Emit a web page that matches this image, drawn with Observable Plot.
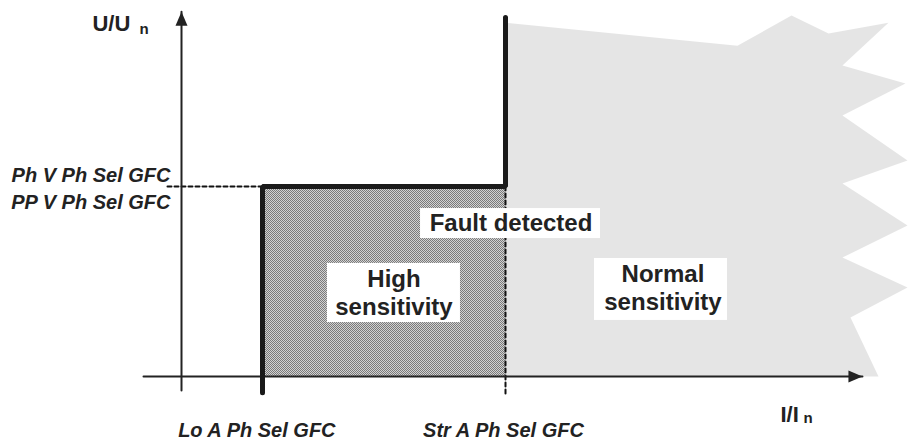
<!DOCTYPE html>
<html>
<head>
<meta charset="utf-8">
<script src="https://cdn.jsdelivr.net/npm/d3@7"></script>
<script src="https://cdn.jsdelivr.net/npm/@observablehq/plot@0.6"></script>
<style>
  html, body { margin: 0; padding: 0; background: #fff; }
  #chart svg { display: block; }
</style>
</head>
<body>
<div id="chart"></div>
<script>
// ---- Data (axis units: I/In horizontally, U/Un vertically) ----
const xThresholds = [1, 4];                 // Lo A Ph Sel GFC, Str A Ph Sel GFC
const yThreshold = 1;                        // Ph V / PP V Ph Sel GFC
const characteristic = [                     // thick tripping characteristic
  {x: 1, y: -0.085}, {x: 1, y: 1}, {x: 4, y: 1}, {x: 4, y: 1.89}
];
const normalRegion = [                       // jagged "normal sensitivity" area
  {x: 4, y: 1.862}, {x: 6.864, y: 1.741}, {x: 7.531, y: 1.9}, {x: 7.988, y: 1.805},
  {x: 8.728, y: 1.862}, {x: 8.16, y: 1.637}, {x: 8.938, y: 1.542}, {x: 8.16, y: 1.374},
  {x: 8.963, y: 1.137}, {x: 8.16, y: 1.016}, {x: 8.963, y: 0.795}, {x: 8.16, y: 0.626},
  {x: 8.963, y: 0.468}, {x: 8.259, y: 0.311}, {x: 8.605, y: 0}, {x: 4, y: 0}
];
const highRegion = [{x1: 1, x2: 4, y1: 0, y2: 1}];
const xAxisLine = [{x: -0.469, y: 0}, {x: 8.407, y: 0}];
const yAxisLine = [{x: 0, y: -0.074}, {x: 0, y: 1.92}];
const hDash = [{x: -0.173, y: 1}, {x: 1, y: 1}];
const vDash = [{x: 4, y: 1}, {x: 4, y: -0.09}];

const yLabels = [
  {text: "Ph V Ph Sel GFC", x: -0.136, y: 1.026},
  {text: "PP V Ph Sel GFC", x: -0.136, y: 0.884}
];
const xLabels = [
  {text: "Lo A Ph Sel GFC", x: 0.93, y: -0.321},
  {text: "Str A Ph Sel GFC", x: 3.975, y: -0.321}
];
const regionLabels = [
  {text: "Fault detected", x: 4.068, y: 0.765, x1: 2.951, x2: 5.173, y1: 0.726, y2: 0.884},
  {text: "High\nsensitivity", x: 2.623, y: 0.326, x1: 1.802, x2: 3.444, y1: 0.284, y2: 0.595},
  {text: "Normal\nsensitivity", x: 5.944, y: 0.35, x1: 5.099, x2: 6.741, y1: 0.295, y2: 0.621}
];
const axisTitles = [
  {main: "U/U", sub: "n", x: -1.099, y: 1.821, sx: -0.519, sy: 1.805},
  {main: "I/I", sub: "n", x: 7.395, y: -0.237, sx: 7.679, sy: -0.247}
];
const arrowHeads = [
  {x: 0, y: 1.92, rotate: 0},
  {x: 8.407, y: 0, rotate: 90}
];

// ---- Styles ----
const ink = "#222";
const font = "'Liberation Sans', Arial, sans-serif";
const headSymbol = {
  draw(ctx) { ctx.moveTo(0, 0); ctx.lineTo(-6, 14); ctx.lineTo(6, 14); ctx.closePath(); }
};

const chart = Plot.plot({
  width: 909,
  height: 441,
  margin: 0,
  style: {background: "#fff", fontFamily: font},
  x: {domain: [-181 / 81, 728 / 81], axis: null},
  y: {domain: [-65 / 190, 376 / 190], axis: null},
  marks: [
    Plot.line(normalRegion, {x: "x", y: "y", fill: "url(#lightDots)", stroke: "none", curve: "linear"}),
    Plot.rect(highRegion, {x1: "x1", x2: "x2", y1: "y1", y2: "y2", fill: "url(#darkDots)"}),
    Plot.line(hDash, {x: "x", y: "y", stroke: "#111", strokeWidth: 2, strokeDasharray: "4,3"}),
    Plot.line(vDash, {x: "x", y: "y", stroke: "#111", strokeWidth: 2, strokeDasharray: "4,3"}),
    Plot.line(xAxisLine, {x: "x", y: "y", stroke: ink, strokeWidth: 2}),
    Plot.line(yAxisLine, {x: "x", y: "y", stroke: ink, strokeWidth: 2}),
    Plot.dot(arrowHeads, {x: "x", y: "y", rotate: "rotate", symbol: headSymbol, fill: ink, stroke: "none", r: 6}),
    Plot.line(characteristic, {x: "x", y: "y", stroke: "#1a1a1a", strokeWidth: 5, strokeLinecap: "round", strokeLinejoin: "miter"}),
    Plot.rect(regionLabels, {x1: "x1", x2: "x2", y1: "y1", y2: "y2", fill: "#fff"}),
    Plot.text(regionLabels, {x: "x", y: "y", text: "text", fontSize: 24, fontWeight: "bold", fill: ink, lineAnchor: "bottom", lineHeight: 1.16, textAnchor: "middle"}),
    Plot.text(yLabels, {x: "x", y: "y", text: "text", fontSize: 20, fontWeight: "bold", fontStyle: "italic", fill: ink, textAnchor: "end", lineAnchor: "bottom"}),
    Plot.text(xLabels, {x: "x", y: "y", text: "text", fontSize: 20, fontWeight: "bold", fontStyle: "italic", fill: ink, textAnchor: "middle", lineAnchor: "bottom"}),
    Plot.text(axisTitles, {x: "x", y: "y", text: "main", fontSize: 22, fontWeight: "bold", fill: ink, textAnchor: "start", lineAnchor: "bottom"}),
    Plot.text(axisTitles, {x: "sx", y: "sy", text: "sub", fontSize: 15, fontWeight: "bold", fill: ink, textAnchor: "start", lineAnchor: "bottom"})
  ]
});

// texture patterns
const defs = d3.select(chart).insert("defs", ":first-child");
function checker(id, bg, fg) {
  const p = defs.append("pattern").attr("id", id).attr("patternUnits", "userSpaceOnUse")
    .attr("width", 2).attr("height", 2);
  p.append("rect").attr("width", 2).attr("height", 2).attr("fill", bg);
  p.append("rect").attr("x", 0).attr("y", 0).attr("width", 1).attr("height", 1).attr("fill", fg);
  p.append("rect").attr("x", 1).attr("y", 1).attr("width", 1).attr("height", 1).attr("fill", fg);
}
checker("darkDots", "#d2d2d2", "#7a7a7a");
checker("lightDots", "#ffffff", "#cbcbcb");

document.getElementById("chart").appendChild(chart);
</script>
</body>
</html>
